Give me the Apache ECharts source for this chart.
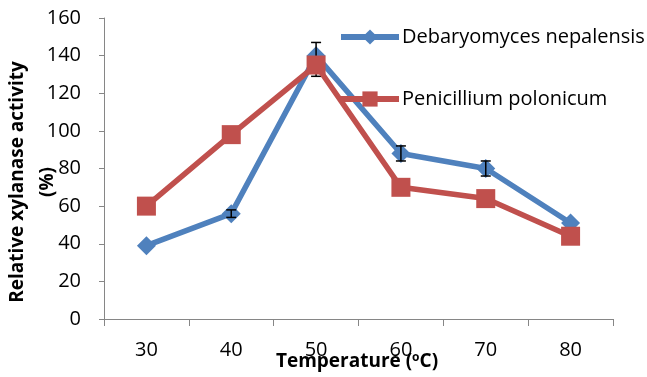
<!DOCTYPE html>
<html>
<head>
<meta charset="utf-8">
<script src="https://cdn.jsdelivr.net/npm/echarts@6/dist/echarts.min.js"></script>
<style>
  html, body { margin: 0; padding: 0; background: #fff; }
  #chart { width: 647px; height: 377px; }
</style>
</head>
<body>
<div id="chart"></div>
<script>
  // data
  var temps = ['30', '40', '50', '60', '70', '80'];
  var debaryomyces = [39, 56, 140, 88, 80, 51];
  var penicillium = [60, 98, 135, 70, 64, 44];
  // error bar ends for Debaryomyces nepalensis (equal ends = no bar)
  var errLow = [39, 54, 129, 84, 76, 51];
  var errHigh = [39, 58, 147, 92, 84, 51];
  var yTicks = [0, 20, 40, 60, 80, 100, 120, 140, 160];

  var font = 'Open Sans';
  var chart = echarts.init(document.getElementById('chart'));

  var errData = temps.map(function (t, i) { return [i, errLow[i], errHigh[i]]; });

  var titleStyle = { fontFamily: font, fontSize: 19, fontWeight: 'bold', fill: '#000' };

  var option = {
    backgroundColor: '#fff',
    animation: false,
    grid: { left: 104, right: 34, top: 18, bottom: 58, outerBoundsMode: 'none' },
    legend: {
      orient: 'vertical',
      left: 333,
      top: 22,
      itemWidth: 58,
      itemHeight: 19,
      itemGap: 42,
      lineStyle: { width: 6 },
      textStyle: { fontFamily: font, fontSize: 20, color: '#000', padding: [0, 0, 0, -2] },
      data: ['Debaryomyces nepalensis', 'Penicillium polonicum']
    },
    graphic: [
      {
        type: 'text', x: 357, y: 362,
        style: Object.assign({
          text: 'Temperature ({sup|o}C)', align: 'center', verticalAlign: 'middle',
          rich: { sup: { fontFamily: font, fontSize: 12, fontWeight: 'bold', fill: '#000', verticalAlign: 'top', padding: [0, 0, 8, 0] } }
        }, titleStyle)
      },
      {
        type: 'text', x: 18, y: 182, rotation: Math.PI / 2,
        style: Object.assign({ text: 'Relative xylanase activity', align: 'center', verticalAlign: 'middle' }, titleStyle)
      },
      {
        type: 'text', x: 48, y: 182, rotation: Math.PI / 2,
        style: Object.assign({ text: '(%)', align: 'center', verticalAlign: 'middle' }, titleStyle)
      }
    ],
    xAxis: {
      type: 'category',
      data: temps,
      boundaryGap: true,
      axisLine: { lineStyle: { color: '#868686', width: 1 } },
      axisTick: { show: true, length: 7, lineStyle: { color: '#868686' } },
      axisLabel: { fontFamily: font, fontSize: 20, color: '#000', margin: 21 }
    },
    yAxis: {
      type: 'value',
      min: 0,
      max: 160,
      interval: 20,
      splitLine: { show: false },
      axisLine: { show: true, lineStyle: { color: '#868686', width: 1 } },
      axisTick: { show: true, length: 5, lineStyle: { color: '#868686' } },
      axisLabel: {
        fontFamily: font, fontSize: 20, color: '#000', margin: 23,
        formatter: function (v) { return yTicks.indexOf(v) >= 0 ? String(v) : ''; }
      }
    },
    series: [
      {
        name: 'Debaryomyces nepalensis',
        type: 'line',
        data: debaryomyces,
        symbol: 'diamond',
        symbolSize: 19,
        itemStyle: { color: '#4F81BD' },
        lineStyle: { color: '#4F81BD', width: 5.5 },
        z: 2
      },
      {
        type: 'custom',
        data: errData,
        z: 3,
        silent: true,
        renderItem: function (params, api) {
          if (api.value(1) === api.value(2)) return null;
          var lo = api.coord([api.value(0), api.value(1)]);
          var hi = api.coord([api.value(0), api.value(2)]);
          var x = lo[0];
          var st = { stroke: '#000', lineWidth: 1.5 };
          return {
            type: 'group',
            children: [
              { type: 'line', shape: { x1: x, y1: lo[1], x2: x, y2: hi[1] }, style: st },
              { type: 'line', shape: { x1: x - 5, y1: lo[1], x2: x + 5, y2: lo[1] }, style: st },
              { type: 'line', shape: { x1: x - 5, y1: hi[1], x2: x + 5, y2: hi[1] }, style: st }
            ]
          };
        }
      },
      {
        name: 'Penicillium polonicum',
        type: 'line',
        data: penicillium,
        symbol: 'rect',
        symbolSize: 19,
        itemStyle: { color: '#C0504D' },
        lineStyle: { color: '#C0504D', width: 5.5 },
        z: 4
      }
    ]
  };

  chart.setOption(option);
</script>
</body>
</html>
